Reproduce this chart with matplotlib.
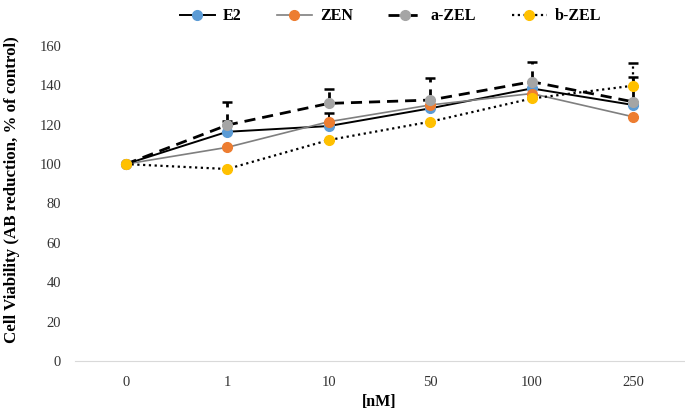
import matplotlib
matplotlib.use("Agg")
import numpy as np
import matplotlib.pyplot as plt

doses = ["0", "1", "10", "50", "100", "250"]

e2 = [100, 116.4, 119.3, 128.3, 138.4, 130.0]
e2_err = [0, 5.5, 6.5, 0, 0, 0]
zen = [100, 108.5, 121.5, 130.0, 135.8, 124.0]
zen_err = [0, 0, 0, 0, 0, 0]
a_zel = [100, 119.8, 130.8, 132.5, 141.8, 131.6]
a_zel_err = [0, 11.8, 7.2, 11.0, 10.2, 12.7]
b_zel = [100, 97.5, 112.2, 121.5, 133.3, 139.8]
b_zel_err = [0, 0, 0, 0, 0, 11.5]

plt.rcParams['font.family'] = ['Liberation Serif', 'DejaVu Serif']

fig = plt.figure(figsize=(6.85, 4.17), dpi=100)
ax = fig.add_axes([0.1095, 0.134, 0.889, 0.756])
x = np.arange(len(doses))

series = [
    ("E2", e2, e2_err, "#5B9BD5", "black", "-", 1.4),
    ("ZEN", zen, zen_err, "#ED7D31", "#7f7f7f", "-", 1.2),
    ("a-ZEL", a_zel, a_zel_err, "#A5A5A5", "black", (0, (4, 2.5)), 2.0),
    ("b-ZEL", b_zel, b_zel_err, "#FFC000", "black", (0, (1, 1.6)), 1.6),
]

for name, vals, err, mcol, lcol, ls, lw in series:
    eb = ax.errorbar(x, vals, yerr=[np.zeros(len(err)), err], fmt="none",
                     ecolor=lcol, elinewidth=lw, capsize=3.5, capthick=1.8,
                     zorder=2)
    eb[2][0].set_linestyle(ls)
for name, vals, err, mcol, lcol, ls, lw in series:
    ax.plot(x, vals, color=lcol, linestyle=ls, linewidth=lw, marker="o",
            markersize=7, markerfacecolor=mcol, markeredgecolor=mcol,
            label=name, zorder=3)

ax.set_xlim(-0.5, 5.5)
ax.set_ylim(0, 160)
ax.set_yticks(range(0, 161, 20))
ax.set_xticks(x)
ax.set_xticklabels(doses)
ax.tick_params(axis="both", length=0, labelsize=10.5, labelcolor="#333333")
ax.tick_params(axis="x", pad=11)
ax.tick_params(axis="y", pad=10)
for s in ["top", "right", "left"]:
    ax.spines[s].set_visible(False)
ax.spines["bottom"].set_color("#d9d9d9")

ax.set_xlabel("[nM]", fontsize=11.5, fontweight="bold", labelpad=3)
ax.set_ylabel("Cell Viability (AB reduction, % of control)", fontsize=12.2,
              fontweight="bold")
ax.yaxis.set_label_coords(-0.09, 0.543)

fig.legend(loc="upper center", bbox_to_anchor=(0.57, 1.015), ncol=4,
           frameon=False, prop={"weight": "bold", "size": 11.5},
           handlelength=2.2, handletextpad=0.5, columnspacing=2.2)

fig.savefig("out.png", dpi=100)
